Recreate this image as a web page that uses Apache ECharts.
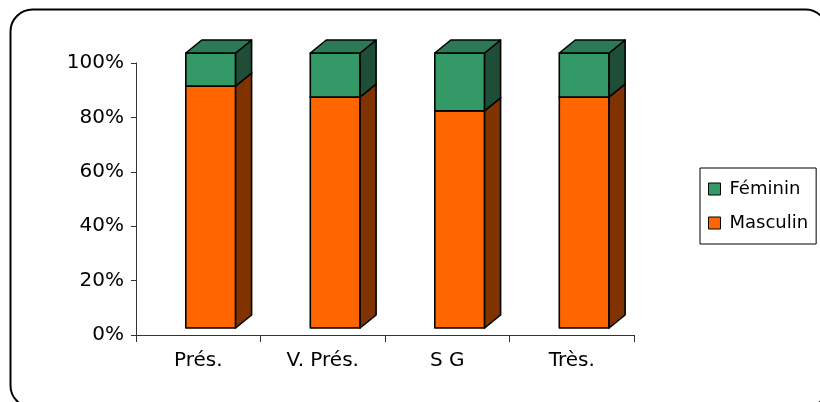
<!DOCTYPE html>
<html>
<head>
<meta charset="utf-8">
<script src="https://cdn.jsdelivr.net/npm/echarts@6/dist/echarts.min.js"></script>
<style>
html,body{margin:0;padding:0;background:#fff;}
#c{width:820px;height:402px;}
</style>
</head>
<body>
<div id="c"></div>
<script>
var categories = ['Prés.', 'V. Prés.', 'S G', 'Très.'];
var masculin = [88, 84, 79, 84];
var feminin = [12, 16, 21, 16];
var yTicks = [0, 20, 40, 60, 80, 100];

var FONT = '"DejaVu Sans", "Liberation Sans", Arial, sans-serif';
var DX = 16, DY = -13;

function makeData(vals, bases) {
  return vals.map(function (v, i) { var b = bases ? bases[i] : 0; return [i, b, b + v]; });
}
var mascData = makeData(masculin, null);
var femData = makeData(feminin, masculin);

function renderer(front, top, side) {
  return function (params, api) {
    var ci = api.value(0), base = api.value(1), topv = api.value(2);
    var p0 = api.coord([ci, base]);
    var p1 = api.coord([ci, topv]);
    var band = api.size([1, 0])[0];
    var x0 = p0[0] - 0.1 * band;
    var x1 = x0 + 0.4 * band;
    var yb = p0[1] - 7 - 3 * base / 100;
    var yt = p1[1] - 7 - 3 * topv / 100;
    var st = { stroke: '#000', lineWidth: 1.6, lineJoin: 'round' };
    return {
      type: 'group',
      children: [
        { type: 'rect', shape: { x: x0, y: yt, width: x1 - x0, height: yb - yt }, style: Object.assign({ fill: front }, st) },
        { type: 'polygon', shape: { points: [[x1, yt], [x1 + DX, yt + DY], [x1 + DX, yb + DY], [x1, yb]] }, style: Object.assign({ fill: side }, st) },
        { type: 'polygon', shape: { points: [[x0, yt], [x0 + DX, yt + DY], [x1 + DX, yt + DY], [x1, yt]] }, style: Object.assign({ fill: top }, st) }
      ]
    };
  };
}

var chart = echarts.init(document.getElementById('c'), null, { renderer: 'canvas' });
chart.setOption({
  animation: false,
  backgroundColor: '#fff',
  textStyle: { fontFamily: FONT, color: '#000' },
  graphic: [{
    type: 'rect', left: 8, top: 7, z: -10,
    shape: { width: 817, height: 398, r: 22 },
    style: { fill: 'none', stroke: '#000', lineWidth: 2 }
  }],
  grid: { left: 136, right: 186, top: 63, bottom: 67 },
  legend: {
    orient: 'vertical',
    left: 700, top: 168,
    padding: [12, 8, 12, 8],
    itemGap: 16,
    itemWidth: 12, itemHeight: 12,
    borderColor: '#000', borderWidth: 1,
    icon: 'rect',
    itemStyle: { borderColor: '#000', borderWidth: 1 },
    textStyle: { fontFamily: FONT, fontSize: 18, color: '#000', padding: [0, 0, 0, 4] },
    data: ['Féminin', 'Masculin']
  },
  xAxis: {
    type: 'category',
    data: categories,
    boundaryGap: true,
    axisLine: { lineStyle: { color: '#333', width: 1 } },
    axisTick: { show: true, length: 7, alignWithLabel: false, lineStyle: { color: '#333' } },
    axisLabel: { fontFamily: FONT, fontSize: 20, color: '#000', margin: 16 },
    splitLine: { show: false }
  },
  yAxis: {
    type: 'value',
    min: yTicks[0], max: yTicks[yTicks.length - 1], interval: yTicks[1] - yTicks[0],
    axisLine: { show: true, lineStyle: { color: '#333', width: 1 } },
    axisTick: { show: true, length: 5, lineStyle: { color: '#333' } },
    axisLabel: { fontFamily: FONT, fontSize: 20, color: '#000', margin: 12, formatter: '{value}%' },
    splitLine: { show: false }
  },
  series: [
    {
      name: 'Masculin', type: 'custom',
      itemStyle: { color: '#FF6600' },
      encode: { x: 0, y: 2 },
      renderItem: renderer('#FF6600', '#FF6600', '#803300'),
      data: mascData
    },
    {
      name: 'Féminin', type: 'custom',
      itemStyle: { color: '#339966' },
      encode: { x: 0, y: 2 },
      renderItem: renderer('#339966', '#2B7A55', '#1E4E38'),
      data: femData
    }
  ]
});
</script>
</body>
</html>
